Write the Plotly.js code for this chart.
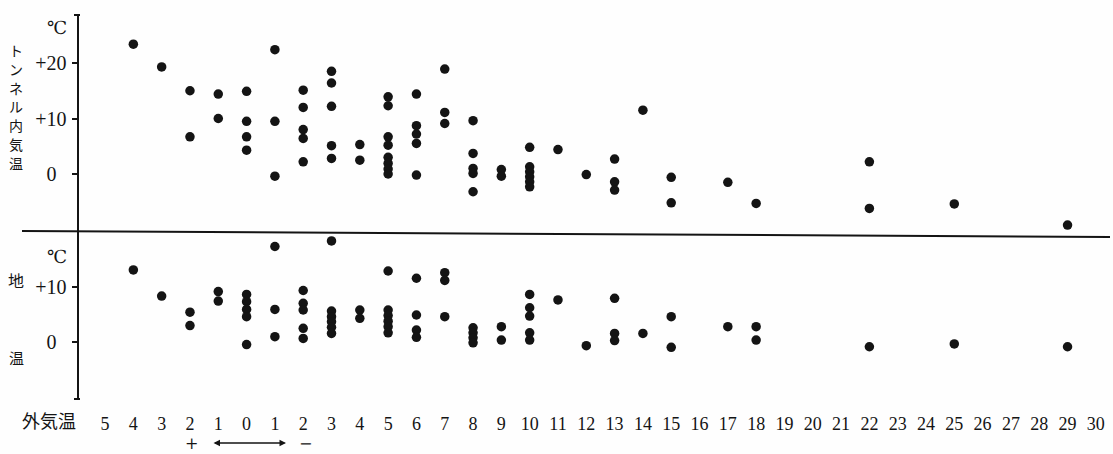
<!DOCTYPE html>
<html>
<head>
<meta charset="utf-8">
<script src="https://cdn.plot.ly/plotly-3.0.1.min.js"></script>
<style>html,body{margin:0;padding:0;background:#fefefe;}#chart{width:1113px;height:454px;}</style>
</head>
<body>
<div id="chart"></div>
<script>
// Outside air temperature (°C, signed: + warm side, − cold side) for each tunnel reading
const outsideTunnel = [4, 3, 2, 2, 1, 1, 0, 0, 0, 0, -1, -1, -1,
  -2, -2, -2, -2, -2, -3, -3, -3, -3, -3, -4, -4,
  -5, -5, -5, -5, -5, -5, -5, -5, -6, -6, -6, -6, -6, -7, -7, -7,
  -8, -8, -8, -8, -8, -9, -9, -10, -10, -10, -10, -10, -10, -11, -12,
  -13, -13, -13, -14, -15, -15, -17, -18, -22, -22, -25, -29];
// Air temperature inside the tunnel (°C)
const tunnelTemp = [23.4, 19.3, 15.0, 6.7, 14.4, 10.0, 14.9, 9.5, 6.7, 4.3, 22.4, 9.5, -0.4,
  15.1, 12.0, 8.0, 6.4, 2.2, 18.5, 16.4, 12.2, 5.1, 2.8, 5.3, 2.5,
  13.9, 12.3, 6.7, 5.2, 3.0, 1.9, 0.9, 0.0, 14.4, 8.7, 7.2, 5.5, -0.2, 18.9, 11.1, 9.1,
  9.6, 3.7, 1.0, 0.1, -3.2, 0.8, -0.4, 4.8, 1.3, 0.4, -0.5, -1.4, -2.3, 4.4, -0.1,
  2.7, -1.4, -2.9, 11.5, -0.6, -5.2, -1.5, -5.3, 2.2, -6.2, -5.4, -9.2];

// Outside air temperature for each ground-temperature reading
const outsideGround = [4, 3, 2, 2, 1, 1, 0, 0, 0, 0, 0, -1, -1, -1,
  -2, -2, -2, -2, -2, -3, -3, -3, -3, -3, -3, -4, -4,
  -5, -5, -5, -5, -5, -5, -6, -6, -6, -6, -7, -7, -7,
  -8, -8, -8, -8, -9, -9, -10, -10, -10, -10, -10, -11, -12,
  -13, -13, -13, -14, -15, -15, -17, -18, -18, -22, -25, -29];
// Ground temperature (°C)
const groundTemp = [13.0, 8.3, 5.4, 3.0, 9.1, 7.4, 8.6, 7.3, 5.9, 4.6, -0.4, 17.2, 5.9, 1.0,
  9.3, 7.0, 5.8, 2.5, 0.7, 18.2, 5.6, 4.6, 3.7, 2.7, 1.6, 5.8, 4.3,
  12.8, 5.8, 4.8, 3.8, 2.8, 1.7, 11.5, 4.9, 2.2, 0.9, 12.5, 11.1, 4.6,
  2.6, 1.7, 0.8, -0.1, 2.8, 0.4, 8.6, 6.2, 4.7, 1.7, 0.4, 7.6, -0.6,
  7.9, 1.6, 0.3, 1.6, 4.6, -0.9, 2.8, 2.8, 0.4, -0.8, -0.3, -0.8];

// Axis ticks
const xTickVals = [5, 4, 3, 2, 1, 0, -1, -2, -3, -4, -5, -6, -7, -8, -9, -10, -11, -12, -13, -14, -15,
  -16, -17, -18, -19, -20, -21, -22, -23, -24, -25, -26, -27, -28, -29, -30];
const xTickText = xTickVals.map(v => String(Math.abs(v)));
const yTopTickVals = [0, 10, 20];
const yTopTickText = ['0\u2002', '+10', '+20'];
const yBotTickVals = [0, 10];
const yBotTickText = ['0\u2002', '+10'];
const tunnelLabelChars = ['ト', 'ン', 'ネ', 'ル', '内', '気', '温'];

const W = 1113, H = 454;
const L = 79, R = 3, T = 15, B = 55;
const pw = W - L - R, ph = H - T - B;
const px = x => (x - L) / pw;
const py = y => (H - B - y) / ph;

const serif = "'Liberation Serif', 'DejaVu Serif', serif";
const dserif = "'DejaVu Serif', serif";
const jp = "'Noto Sans CJK JP', sans-serif";
const ink = '#141414';

const traces = [
  { x: outsideTunnel, y: tunnelTemp, xaxis: 'x', yaxis: 'y', type: 'scatter', mode: 'markers',
    marker: { size: 9.5, color: ink, line: { width: 0 } }, hoverinfo: 'x+y' },
  { x: outsideGround, y: groundTemp, xaxis: 'x', yaxis: 'y2', type: 'scatter', mode: 'markers',
    marker: { size: 9.5, color: ink, line: { width: 0 } }, hoverinfo: 'x+y' }
];

const split = py(231);

const annotations = [];
tunnelLabelChars.forEach((c, i) => {
  annotations.push({ text: c, xref: 'paper', yref: 'paper', x: px(16), y: py(50 + i * 18.8),
    showarrow: false, xanchor: 'center', yanchor: 'middle', font: { family: jp, size: 14, color: ink } });
});
annotations.push(
  { text: '℃', xref: 'paper', yref: 'paper', x: px(57), y: py(28), showarrow: false,
    xanchor: 'center', yanchor: 'middle', font: { family: serif, size: 18, color: ink } },
  { text: '℃', xref: 'paper', yref: 'paper', x: px(57), y: py(257), showarrow: false,
    xanchor: 'center', yanchor: 'middle', font: { family: serif, size: 18, color: ink } },
  { text: '地', xref: 'paper', yref: 'paper', x: px(16), y: py(280), showarrow: false,
    xanchor: 'center', yanchor: 'middle', font: { family: jp, size: 16, color: ink } },
  { text: '温', xref: 'paper', yref: 'paper', x: px(16), y: py(357), showarrow: false,
    xanchor: 'center', yanchor: 'middle', font: { family: jp, size: 15, color: ink } },
  { text: '外気温', xref: 'paper', yref: 'paper', x: px(49), y: py(420), showarrow: false,
    xanchor: 'center', yanchor: 'middle', font: { family: jp, size: 18, color: ink } },
  { text: '+', xref: 'paper', yref: 'paper', x: px(191), y: py(443.5), showarrow: false,
    xanchor: 'center', yanchor: 'middle', borderpad: 0, font: { family: dserif, size: 16, color: ink } },
  { text: '−', xref: 'paper', yref: 'paper', x: px(305), y: py(443.5), showarrow: false,
    xanchor: 'center', yanchor: 'middle', borderpad: 0, font: { family: dserif, size: 16, color: ink } },
  { text: '', xref: 'paper', yref: 'paper', x: px(286), y: py(443), ax: -74, ay: 0,
    showarrow: true, arrowside: 'end+start', arrowhead: 2, arrowsize: 1, arrowwidth: 1.3, arrowcolor: ink }
);

const shapes = [
  { type: 'line', xref: 'paper', yref: 'paper', x0: px(22), x1: px(1110), y0: py(231), y1: py(237),
    line: { color: ink, width: 2 } },
  { type: 'line', xref: 'paper', yref: 'paper', x0: px(74), x1: px(80), y0: 1, y1: 1,
    line: { color: ink, width: 2 } },
  { type: 'line', xref: 'paper', yref: 'paper', x0: px(74), x1: px(80), y0: 0, y1: 0,
    line: { color: ink, width: 2 } }
];

const layout = {
  width: W, height: H,
  margin: { l: L, r: R, t: T, b: B, pad: 0 },
  paper_bgcolor: '#fefefe', plot_bgcolor: 'rgba(0,0,0,0)',
  showlegend: false,
  font: { family: serif, size: 18, color: ink },
  xaxis: {
    range: [5.92, -30.5], anchor: 'y2', showgrid: false, zeroline: false, showline: false,
    ticks: '', tickvals: xTickVals, ticktext: xTickText, ticklabelstandoff: 12,
    tickfont: { family: serif, size: 18, color: ink }, fixedrange: true
  },
  yaxis: {
    domain: [split, 1], range: [-10.27, 28.65], anchor: 'x', showgrid: false, zeroline: false,
    showline: true, linewidth: 2.5, linecolor: ink, ticks: 'outside', ticklen: 5, tickwidth: 2, tickcolor: ink,
    tickvals: yTopTickVals, ticktext: yTopTickText, ticklabelstandoff: 1,
    tickfont: { family: serif, size: 20, color: ink }
  },
  yaxis2: {
    domain: [0, split], range: [-10.18, 19.98], anchor: 'x', showgrid: false, zeroline: false,
    showline: true, linewidth: 2.5, linecolor: ink, ticks: 'outside', ticklen: 5, tickwidth: 2, tickcolor: ink,
    tickvals: yBotTickVals, ticktext: yBotTickText, ticklabelstandoff: 1,
    tickfont: { family: serif, size: 20, color: ink }
  },
  annotations: annotations,
  shapes: shapes
};

Plotly.newPlot('chart', traces, layout, { staticPlot: true, displayModeBar: false });
</script>
</body>
</html>
